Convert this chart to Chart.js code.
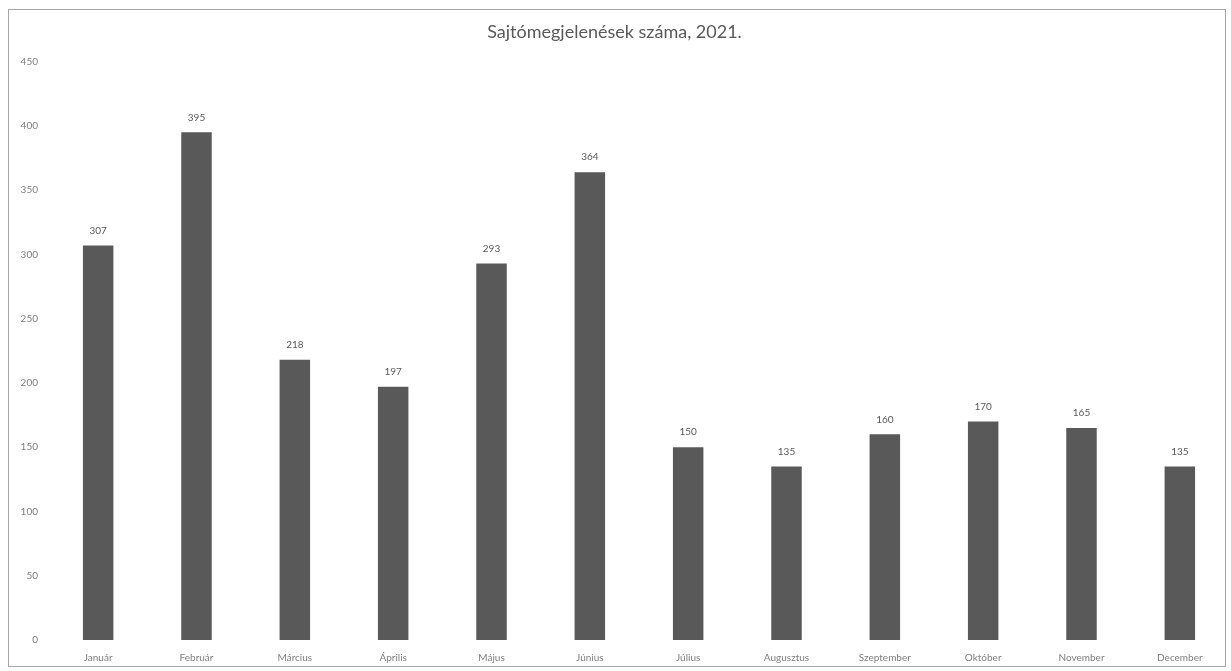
<!DOCTYPE html>
<html>
<head>
<meta charset="utf-8">
<script src="https://cdn.jsdelivr.net/npm/chart.js@4"></script>
<style>
  body { margin: 0; background: #fff; }
  #wrap { position: relative; width: 1231px; height: 671px; }
  #frame { position: absolute; left: 8px; top: 9px; width: 1218px; height: 658px; border: 1px solid #a6a6a6; box-sizing: border-box; }
  canvas { position: absolute; left: 0; top: 0; }
</style>
</head>
<body>
<div id="wrap">
  <div id="frame"></div>
  <canvas id="chart" width="1231" height="671"></canvas>
</div>
<script>
// chart data
var months = ['Január', 'Február', 'Március', 'Április', 'Május', 'Június', 'Július', 'Augusztus', 'Szeptember', 'Október', 'November', 'December'];
var counts = [307, 395, 218, 197, 293, 364, 150, 135, 160, 170, 165, 135];
var yTicks = [0, 50, 100, 150, 200, 250, 300, 350, 400, 450];

// write the value over every bar
const valueLabels = {
  id: 'valueLabels',
  afterDatasetsDraw(chart) {
    const ctx = chart.ctx;
    const meta = chart.getDatasetMeta(0);
    ctx.save();
    ctx.font = '10px Lato';
    ctx.fillStyle = '#595959';
    ctx.textAlign = 'center';
    ctx.textBaseline = 'middle';
    meta.data.forEach((bar, i) => {
      ctx.fillText(counts[i], bar.x, bar.y - 15);
    });
    ctx.restore();
  },
};

const ctx = document.getElementById('chart').getContext('2d');
new Chart(ctx, {
  type: 'bar',
  data: {
    labels: months,
    datasets: [{
      data: counts,
      backgroundColor: '#595959',
      barPercentage: 0.62,
      categoryPercentage: 0.5,
    }],
  },
  options: {
    responsive: false,
    animation: false,
    layout: {
      padding: {top: 0, right: 2, bottom: 0, left: 0},
    },
    plugins: {
      legend: {display: false},
      tooltip: {enabled: false},
      title: {
        display: true,
        text: 'Sajtómegjelenések száma, 2021.',
        color: '#595959',
        font: {family: 'Lato', size: 18, weight: 'normal'},
        padding: {top: 21, bottom: 19},
      },
    },
    scales: {
      x: {
        grid: {display: false},
        border: {display: false},
        ticks: {
          color: '#7f7f7f',
          font: {family: 'Lato', size: 10},
          maxRotation: 0,
          padding: 4,
        },
        afterFit(scale) { scale.height = 31; },
      },
      y: {
        min: 0,
        max: 450,
        afterBuildTicks(scale) { scale.ticks = yTicks.map((v) => ({value: v})); },
        grid: {display: false},
        border: {display: false},
        ticks: {
          color: '#7f7f7f',
          font: {family: 'Lato', size: 10},
          padding: 3,
        },
        afterFit(scale) { scale.width = 49; },
      },
    },
  },
  plugins: [valueLabels],
});
</script>
</body>
</html>
